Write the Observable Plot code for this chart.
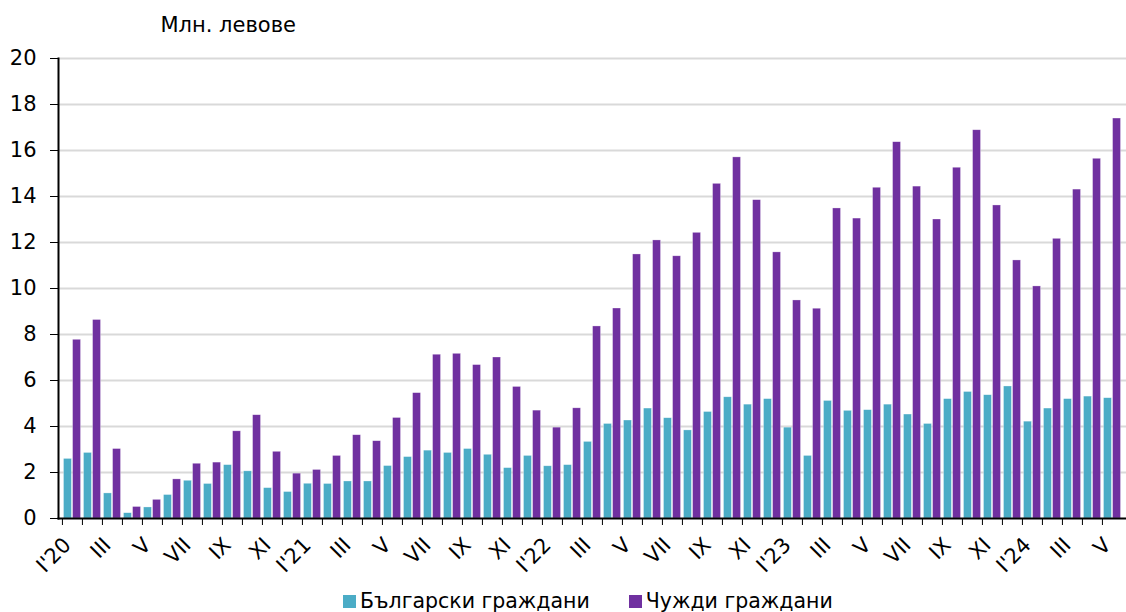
<!DOCTYPE html>
<html><head><meta charset="utf-8">
<script src="https://cdn.jsdelivr.net/npm/d3@7"></script>
<script src="https://cdn.jsdelivr.net/npm/@observablehq/plot@0.6"></script>
<style>
body{margin:0;background:#fff;font-family:"DejaVu Sans",Verdana,sans-serif;color:#000;}
#wrap{position:relative;width:1126px;height:612px;overflow:hidden;}
#legend{position:absolute;top:590px;left:343px;height:22px;display:flex;align-items:center;font-size:20.5px;white-space:nowrap;}
#legend .sw{display:inline-block;width:13px;height:13px;margin-right:4px;}
#legend .item{display:flex;align-items:center;margin-right:39px;}
</style></head><body><div id="wrap"><div id="chart"></div><div id="legend"></div></div>
<script>
const months = [
"2020-01","2020-02","2020-03","2020-04","2020-05","2020-06","2020-07","2020-08","2020-09","2020-10","2020-11","2020-12",
"2021-01","2021-02","2021-03","2021-04","2021-05","2021-06","2021-07","2021-08","2021-09","2021-10","2021-11","2021-12",
"2022-01","2022-02","2022-03","2022-04","2022-05","2022-06","2022-07","2022-08","2022-09","2022-10","2022-11","2022-12",
"2023-01","2023-02","2023-03","2023-04","2023-05","2023-06","2023-07","2023-08","2023-09","2023-10","2023-11","2023-12",
"2024-01","2024-02","2024-03","2024-04","2024-05"];
const monthLabels = [
"I'20","","III","","V","","VII","","IX","","XI","",
"I'21","","III","","V","","VII","","IX","","XI","",
"I'22","","III","","V","","VII","","IX","","XI","",
"I'23","","III","","V","","VII","","IX","","XI","",
"I'24","","III","","V"];
const bulgarian = [
2.59,2.85,1.09,0.23,0.48,1.02,1.64,1.50,2.32,2.05,1.32,1.15,
1.51,1.50,1.61,1.61,2.28,2.67,2.95,2.85,3.02,2.77,2.19,2.72,
2.27,2.32,3.33,4.11,4.26,4.78,4.36,3.83,4.63,5.27,4.95,5.19,
3.95,2.72,5.11,4.68,4.71,4.95,4.52,4.11,5.19,5.50,5.36,5.74,
4.21,4.78,5.19,5.30,5.23];
const foreign = [
7.77,8.63,3.02,0.50,0.81,1.70,2.38,2.43,3.79,4.49,2.90,1.95,
2.11,2.72,3.62,3.36,4.37,5.45,7.12,7.16,6.67,7.00,5.72,4.69,
3.95,4.79,8.35,9.13,11.48,12.09,11.40,12.42,14.55,15.70,13.84,11.57,
9.48,9.12,13.48,13.04,14.38,16.36,14.43,13.00,15.25,16.88,13.61,11.22,
10.09,12.16,14.30,15.64,17.39];
const seriesNames = ["Български граждани","Чужди граждани"];
const colors = ["#4BACC6","#7030A0"];
const yTicks = [0,2,4,6,8,10,12,14,16,18,20];
const yTitle = "Млн. левове";

const labelOf = new Map(months.map((m,i)=>[m,monthLabels[i]]));
const bgData = months.map((m,i)=>({month:m, value:bulgarian[i]}));
const fgData = months.map((m,i)=>({month:m, value:foreign[i]}));

const W=1126, H=590, ML=58, MR=0, MT=58, MB=72;
const band = (W-ML-MR)/months.length;
const font = "DejaVu Sans, Verdana, sans-serif";

const chart = Plot.plot({
  width: W, height: H,
  marginLeft: ML, marginRight: MR, marginTop: MT, marginBottom: MB,
  style: {fontFamily: font, fontSize: "21px", color: "#000", background: "#fff", overflow: "visible"},
  x: {type: "band", domain: months, padding: 0},
  y: {domain: [0, 20]},
  marks: [
    Plot.gridY(yTicks.filter(v=>v>0), {stroke: "#d9d9d9", strokeOpacity: 1, strokeWidth: 2}),
    Plot.barY(bgData, {x: "month", y: "value", fill: colors[0], stroke: "#fff", strokeOpacity: 0.5, strokeWidth: 0.6, insetLeft: 1.5, insetRight: band/2 + 0.5}),
    Plot.barY(fgData, {x: "month", y: "value", fill: colors[1], stroke: "#fff", strokeOpacity: 0.5, strokeWidth: 0.6, insetLeft: band/2 + 0.5, insetRight: 1.5}),
    Plot.frame({anchor: "left", stroke: "#000", strokeWidth: 2}),
    Plot.frame({anchor: "bottom", stroke: "#000", strokeWidth: 2}),
    Plot.axisY(yTicks, {tickSize: 8, tickPadding: 14, fontSize: 21, label: null, stroke: "#000"}),
    Plot.axisX(months, {tickSize: 7, dx: -band/2, tickFormat: () => "", label: null, stroke: "#000"}),
    Plot.axisX(months.filter((m,i)=>monthLabels[i] !== ""), {tickSize: 0, tickPadding: 23, dx: -5, tickRotate: -45, tickFormat: m => labelOf.get(m), fontSize: 21, label: null}),
    Plot.text([yTitle], {frameAnchor: "top-left", dx: 102, dy: -33, textAnchor: "start", lineAnchor: "middle", fontSize: 21, fill: "#000"})
  ]
});
document.getElementById("chart").appendChild(chart);

const lg = document.getElementById("legend");
seriesNames.forEach((n,i)=>{
  const it = document.createElement("span"); it.className = "item";
  const sw = document.createElement("span"); sw.className = "sw"; sw.style.background = colors[i];
  const tx = document.createElement("span"); tx.textContent = n;
  it.appendChild(sw); it.appendChild(tx); lg.appendChild(it);
});
</script></body></html>
